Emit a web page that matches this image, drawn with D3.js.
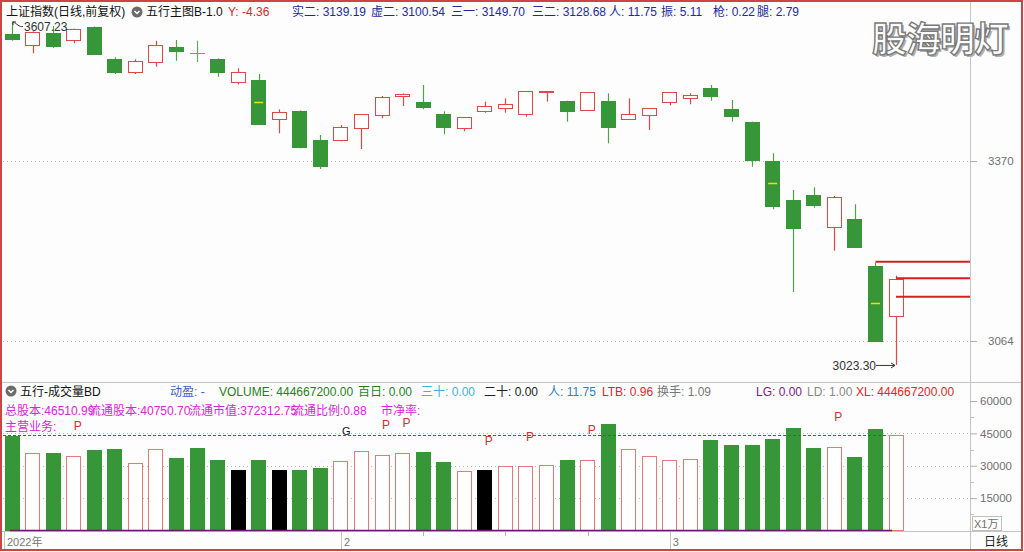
<!DOCTYPE html>
<html><head><meta charset="utf-8">
<script src="https://cdn.jsdelivr.net/npm/d3@7/dist/d3.min.js"></script>
<style>
body{margin:0;background:#fff;}
svg{display:block;font-family:"Liberation Sans","Noto Sans CJK SC",sans-serif;}
</style>
</head><body>
<svg id="chart" width="1024" height="552"></svg>
<script>
// ---------------- data ----------------
const openV  = [3585.9,3568.4,3588.1,3575.2,3598.3,3542.9,3520.1,3538.3,3564.3,3554.2,3543.9,3504.8,3507.2,3440.9,3455.0,3405.7,
                3404.5,3425.6,3447.7,3480.0,3470.3,3449.9,3425.6,3454.5,3461.3,3449.4,3486.1,3472.0,3456.2,3472.0,3441.9,3447.7,
                3469.8,3476.6,3493.6,3458.4,3436.3,3370.5,3303.7,3312.2,3257.3,3271.4,3192.0,3107.0];
const highV  = [3607.23,3590.5,3599.5,3595.0,3598.8,3546.3,3542.9,3574.5,3575.7,3574.5,3544.5,3527.6,3517.9,3457.9,3456.0,3414.2,
                3431.2,3450.0,3480.5,3485.0,3499.2,3454.5,3444.8,3470.8,3476.6,3489.0,3488.8,3472.5,3487.3,3485.1,3476.6,3460.0,
                3487.3,3485.0,3499.2,3473.7,3437.0,3383.1,3320.7,3325.3,3310.5,3296.4,3197.1,3175.0];
const lowV   = [3574.5,3553.1,3562.1,3570.1,3552.5,3517.9,3517.9,3530.3,3540.5,3538.3,3513.3,3500.4,3431.0,3417.1,3391.6,3356.4,
                3403.5,3390.4,3442.6,3463.5,3457.9,3415.4,3420.5,3452.1,3452.1,3445.3,3470.8,3436.8,3455.5,3400.1,3440.9,3422.7,
                3464.7,3466.4,3472.5,3436.8,3360.3,3287.9,3147.3,3290.6,3217.5,3222.8,3063.5,3023.30];
const closeV = [3577.4,3589.8,3565.5,3594.4,3553.1,3520.1,3539.5,3567.7,3557.0,3554.0,3521.8,3521.8,3432.4,3452.8,3393.3,3361.5,
                3427.3,3449.4,3478.3,3483.9,3462.3,3427.3,3444.3,3463.5,3467.4,3488.5,3488.5,3455.5,3486.8,3428.3,3449.9,3459.6,
                3486.8,3482.2,3479.3,3447.0,3371.7,3294.0,3256.6,3295.7,3308.3,3223.3,3064.5,3169.9];
// volume in 万股
const volume = [43900,36000,35900,34600,37400,37850,31500,37700,33700,38300,32750,28250,32750,27800,28250,29150,
                32300,36900,35200,36000,36600,31950,27650,27800,30000,29700,30450,32800,32800,49500,37800,34700,
                32800,33300,41700,39800,39800,42200,47300,38000,38900,34200,46900,44466.72];
// g = green filled, h = hollow red, b = black filled
const volKind = ["g","h","g","h","g","g","h","h","g","g","g","b","g","b","g","g",
                 "h","h","h","h","g","g","h","b","h","h","h","g","h","g","h","h",
                 "h","h","g","g","g","g","g","g","h","g","g","h"];
const midMarkIdx = [12,37,42];
const levelIdx = [42,43,43];
const levelVal = [3198.8,3170.6,3139.19];
const priceTicks = [3370,3064];
const volTicks = [60000,45000,30000,15000];
const monthIdx = [0,16,32];
const monthLabels = ["2022年","2","3"];
const minorTickIdx = [20,24,28];
const signalPIdx = [3,18,19,23,25,28,40];
const signalGIdx = [16];
const lastVolume = 44466.72;
const highLabel = "3607.23";
const lowLabel = "3023.30";

// header texts
const headerMain = [
  {t:"上证指数(日线,前复权)", x:6, c:"#111"},
  {t:"五行主图B-1.0", x:146, c:"#111"},
  {t:"Y: -4.36", x:228, c:"#d02828"},
  {t:"实二: 3139.19", x:292, c:"#1c2a9c"},
  {t:"虚二: 3100.54", x:371, c:"#1c2a9c"},
  {t:"三一: 3149.70", x:451, c:"#1c2a9c"},
  {t:"三二: 3128.68", x:532, c:"#1c2a9c"},
  {t:"人: 11.75", x:609, c:"#1c2a9c"},
  {t:"振: 5.11", x:661, c:"#1c2a9c"},
  {t:"枪: 0.22", x:713, c:"#1c2a9c"},
  {t:"腿: 2.79", x:757, c:"#1c2a9c"}
];
const headerVol = [
  {t:"五行-成交量BD", x:20, c:"#111"},
  {t:"动盈: -", x:170, c:"#3c5cc8"},
  {t:"VOLUME: 444667200.00", x:219, c:"#1f7f1f"},
  {t:"百日: 0.00", x:358, c:"#1f7f1f"},
  {t:"三十: 0.00", x:421, c:"#3cb4d8"},
  {t:"二十: 0.00", x:484, c:"#222"},
  {t:"人: 11.75", x:548, c:"#2f7fc0"},
  {t:"LTB: 0.96", x:602, c:"#d82828"},
  {t:"换手: 1.09", x:657, c:"#777"},
  {t:"LG: 0.00", x:756, c:"#802080"},
  {t:"LD: 1.00", x:807, c:"#888"},
  {t:"XL: 444667200.00", x:856, c:"#d82828"}
];
const infoLine = [
  {t:"总股本:46510.99", x:5},
  {t:"流通股本:40750.70", x:89},
  {t:"流通市值:372312.75", x:189},
  {t:"流通比例:0.88", x:292},
  {t:"市净率:", x:381}
];

// ---------------- drawing ----------------
const svg = d3.select("#chart");
const W = 1024, H = 552;
const plotL = 3, axisX = 970;

svg.append("rect").attr("width",W).attr("height",H).attr("fill","#fdfdfd");

const x = d3.scalePoint().domain(d3.range(openV.length)).range([12, 896]);
const bw = Math.round(x.step()*0.71);
const y = d3.scaleLinear().domain([3064,3370]).range([341,161]);
const yv = d3.scaleLinear().domain([0,60000]).range([530.5,401]);

const GREEN = "#379637", GREEN_W = "#4f9f4f", RED = "#e04848", VRED = "#e27a7a";
const px = v => Math.round(v)+0.5;

// grid lines
const grid = svg.append("g");
grid.selectAll("line.pg").data(priceTicks).join("line")
  .attr("x1",plotL).attr("x2",axisX).attr("y1",d=>px(y(d))).attr("y2",d=>px(y(d)))
  .attr("stroke","#b8b8b8").attr("stroke-dasharray","1,3");
grid.selectAll("line.vg").data(volTicks.filter(d=>d<60000)).join("line")
  .attr("x1",plotL).attr("x2",axisX).attr("y1",d=>px(yv(d))).attr("y2",d=>px(yv(d)))
  .attr("stroke","#b8b8b8").attr("stroke-dasharray","1,3");

// panel separators
svg.append("line").attr("x1",2).attr("x2",1022).attr("y1",382.5).attr("y2",382.5).attr("stroke","#c4c4c4");
svg.append("line").attr("x1",2).attr("x2",1022).attr("y1",531.5).attr("y2",531.5).attr("stroke","#c4c4c4");
svg.append("line").attr("x1",axisX+0.5).attr("x2",axisX+0.5).attr("y1",2).attr("y2",550).attr("stroke","#c4c4c4");

// ---- candles ----
const idx = d3.range(openV.length);
const cg = svg.append("g");
const isUp = i => closeV[i] > openV[i];
const isDoji = i => Math.abs(closeV[i]-openV[i]) < 1;
cg.selectAll("line.wick").data(idx).join("line")
  .attr("x1",i=>px(x(i))).attr("x2",i=>px(x(i)))
  .attr("y1",i=>y(highV[i])).attr("y2",i=>y(lowV[i]))
  .attr("stroke",i=>isUp(i)?RED:(isDoji(i)?"#6aa86a":GREEN_W)).attr("stroke-width",1.2);
cg.selectAll("rect.body").data(idx).join("rect")
  .attr("x",i=>Math.round(x(i)-bw/2)+0.5)
  .attr("width",bw-1)
  .attr("y",i=>Math.round(y(Math.max(openV[i],closeV[i])))+0.5)
  .attr("height",i=>Math.max(0.01,Math.round(Math.abs(y(openV[i])-y(closeV[i])))))
  .attr("fill",i=>isUp(i)?"#fff":(isDoji(i)?"#6aa86a":GREEN))
  .attr("stroke",i=>isUp(i)?RED:(isDoji(i)?"#6aa86a":GREEN))
  .attr("stroke-width",1);
cg.selectAll("line.mid").data(midMarkIdx).join("line")
  .attr("x1",i=>x(i)-bw/2+3).attr("x2",i=>x(i)+bw/2-3)
  .attr("y1",i=>px(y((openV[i]+closeV[i])/2))).attr("y2",i=>px(y((openV[i]+closeV[i])/2)))
  .attr("stroke","#e6e600").attr("stroke-width",1.5);

// level lines
svg.selectAll("line.lvl").data(d3.range(levelVal.length)).join("line")
  .attr("x1",k=>x(levelIdx[k])).attr("x2",axisX)
  .attr("y1",k=>y(levelVal[k])).attr("y2",k=>y(levelVal[k]))
  .attr("stroke","#d42020").attr("stroke-width",2);

// high label
const hiI = highV.indexOf(d3.max(highV));
const hx = x(hiI), hy = y(highV[hiI]);
svg.append("path")
  .attr("d",`M${hx+1},${hy+0.5} L${hx+1},${hy+3.5} M${hx+1},${hy+0.5} L${hx+4},${hy+0.5} M${hx+1},${hy+0.5} C${hx+5},${hy+2} ${hx+7},${hy+6} ${hx+11},${hy+5}`)
  .attr("fill","none").attr("stroke","#333").attr("stroke-width",1);
svg.append("text").attr("x",hx+12).attr("y",hy+10)
  .attr("font-size",12).attr("fill","#333").text(highLabel);
// low label
const loI = lowV.indexOf(d3.min(lowV));
const loY = y(lowV[loI]);
svg.append("text").attr("x",x(loI)-20).attr("y",loY+5.5).attr("text-anchor","end")
  .attr("font-size",12).attr("fill","#333").text(lowLabel);
svg.append("path").attr("d",`M${x(loI)-20},${loY+0.5} L${x(loI)-1},${loY+0.5} M${x(loI)-5},${loY-2} L${x(loI)-1},${loY+0.5} L${x(loI)-5},${loY+3}`)
  .attr("fill","none").attr("stroke","#333").attr("stroke-width",1);

// ---- volume ----
const vg = svg.append("g");
vg.selectAll("rect.vol").data(idx).join("rect")
  .attr("x",i=>Math.round(x(i)-bw/2)+0.5)
  .attr("width",bw-1)
  .attr("y",i=>Math.round(yv(volume[i]))+0.5)
  .attr("height",i=>yv(0)-Math.round(yv(volume[i]))-0.5)
  .attr("fill",i=>volKind[i]==="h"?"#fff":(volKind[i]==="b"?"#000":GREEN))
  .attr("stroke",i=>volKind[i]==="h"?VRED:(volKind[i]==="b"?"#000":GREEN))
  .attr("stroke-width",1);
// dashed last-volume level
svg.append("line").attr("x1",plotL).attr("x2",x(idx.length-1)-bw/2)
  .attr("y1",px(yv(lastVolume))).attr("y2",px(yv(lastVolume)))
  .attr("stroke","#c82828").attr("stroke-dasharray","3,2");
// baseline
svg.append("line").attr("x1",x(0)-2).attr("x2",x(idx.length-1)-4)
  .attr("y1",530.5).attr("y2",530.5).attr("stroke","#6a1a6a").attr("stroke-width",1.5);
// signals
svg.selectAll("text.p").data(signalPIdx).join("text")
  .attr("x",i=>x(i)).attr("y",i=>yv(volume[i])-25.5)
  .attr("font-size",12).attr("fill","#d03030").text("P");
svg.selectAll("text.g").data(signalGIdx).join("text")
  .attr("x",i=>x(i)+1).attr("y",i=>yv(volume[i])-25.5)
  .attr("font-size",11).attr("fill","#111").text("G");

// ---- right axes ----
const pa = svg.append("g").attr("transform",`translate(${axisX},0)`)
  .call(d3.axisRight(y).tickValues(priceTicks).tickSize(7).tickPadding(11).tickFormat(d3.format("d")));
pa.select(".domain").remove();
pa.selectAll("line").attr("stroke","#b0b0b0");
pa.selectAll("text").attr("font-size",11.5).attr("fill","#707070").attr("font-family","Liberation Sans, sans-serif");
const va = svg.append("g").attr("transform",`translate(${axisX},0)`)
  .call(d3.axisRight(yv).tickValues(volTicks).tickSize(7).tickPadding(3).tickFormat(d3.format("d")));
va.select(".domain").remove();
va.selectAll("line").attr("stroke","#b0b0b0");
va.selectAll("text").attr("font-size",11.5).attr("fill","#707070").attr("font-family","Liberation Sans, sans-serif");
svg.selectAll("line.vmin").data([52500,37500,22500,7500]).join("line")
  .attr("x1",axisX).attr("x2",axisX+4).attr("y1",d=>px(yv(d))).attr("y2",d=>px(yv(d))).attr("stroke","#c0c0c0");
svg.append("rect").attr("x",972.5).attr("y",516.5).attr("width",29).attr("height",14)
  .attr("fill","none").attr("stroke","#c0c0c0");
svg.append("text").attr("x",974).attr("y",528).attr("font-size",11).attr("fill","#707070").text("X1万");

// ---- bottom axis ----
const bx = i => i===0 ? 4 : x(i);
svg.selectAll("line.mt").data(monthIdx).join("line")
  .attr("x1",i=>px(bx(i))).attr("x2",i=>px(bx(i))).attr("y1",532).attr("y2",549).attr("stroke","#c4c4c4");
svg.selectAll("text.ml").data(d3.range(monthIdx.length)).join("text")
  .attr("x",k=>bx(monthIdx[k])+3).attr("y",546).attr("font-size",11).attr("fill","#777").text(k=>monthLabels[k]);
svg.selectAll("line.mn").data(minorTickIdx).join("line")
  .attr("x1",i=>px(x(i))).attr("x2",i=>px(x(i))).attr("y1",532).attr("y2",536).attr("stroke","#b0b0b0");
svg.append("text").attr("x",984).attr("y",546).attr("font-size",12).attr("fill","#222").text("日线");

// ---- headers ----
function icon(cx, cy){
  svg.append("circle").attr("cx",cx).attr("cy",cy).attr("r",5.5).attr("fill","#6c6c6c");
  svg.append("path").attr("d",`M${cx-2.5},${cy-1} L${cx},${cy+1.5} L${cx+2.5},${cy-1}`).attr("fill","none").attr("stroke","#fff").attr("stroke-width",1.5);
}
svg.selectAll("text.hm").data(headerMain).join("text")
  .attr("x",d=>d.x).attr("y",16).attr("font-size",12).attr("fill",d=>d.c).text(d=>d.t);
icon(137, 12);
svg.selectAll("text.hv").data(headerVol).join("text")
  .attr("x",d=>d.x).attr("y",396).attr("font-size",12).attr("fill",d=>d.c).text(d=>d.t);
icon(11, 391);
svg.selectAll("text.info").data(infoLine).join("text")
  .attr("x",d=>d.x).attr("y",415).attr("font-size",12).attr("fill","#d824d8").text(d=>d.t);
svg.append("text").attr("x",5).attr("y",431).attr("font-size",12).attr("fill","#d824d8").text("主营业务:");

// watermark (shadow + outlined text)
svg.append("text").attr("x",874).attr("y",54).attr("font-size",35).attr("font-weight","bold")
  .attr("font-family","Noto Sans CJK SC").attr("fill","#b0b0b0").attr("letter-spacing",-1).text("股海明灯");
svg.append("text").attr("x",872).attr("y",52).attr("font-size",35).attr("font-weight","bold")
  .attr("font-family","Noto Sans CJK SC").attr("fill","#fff").attr("stroke","#7a7a7a").attr("stroke-width",1.4)
  .attr("letter-spacing",-1).text("股海明灯");

// outer frame
svg.append("rect").attr("x",1).attr("y",1).attr("width",1021).attr("height",549)
  .attr("fill","none").attr("stroke","#cc4444").attr("stroke-width",2);
</script>
</body></html>
